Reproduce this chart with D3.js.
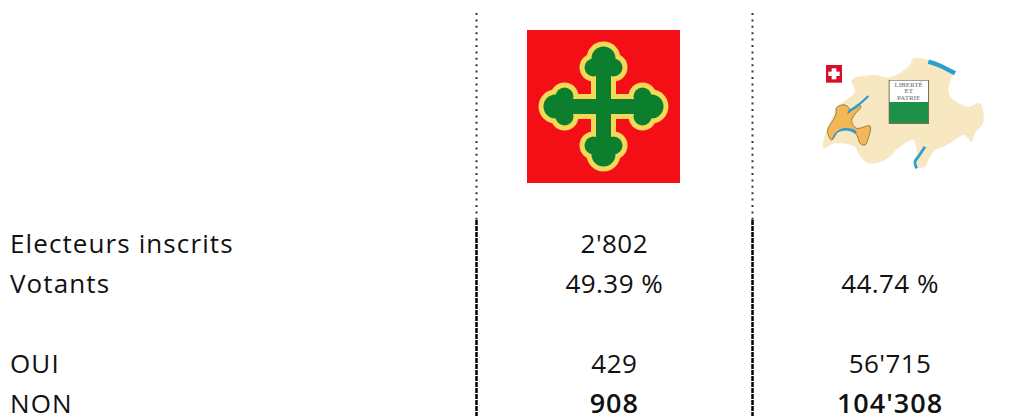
<!DOCTYPE html>
<html><head><meta charset="utf-8">
<script src="https://cdn.jsdelivr.net/npm/d3@7"></script>
<style>html,body{margin:0;padding:0;background:#fff}svg{display:block}text{font-family:"Open Sans",sans-serif;fill:#111}</style>
</head><body><svg id="c" width="1019" height="416"></svg>
<script>
const rowLabels = ["Electeurs inscrits","Votants","","OUI","NON"];
const colA = ["2'802","49.39 %","","429","908"];
const colB = ["","44.74 %","","56'715","104'308"];
const boldRow = "NON";

// Icon outlines, in the icon's own drawing units
const swissOutline = [[70,325],[80,270],[120,195],[165,155],[155,120],[225,105],[270,112],[330,75],[340,55],[385,60],[420,85],[455,100],[445,150],[455,175],[505,200],[540,190],[550,245],[525,280],[515,305],[490,285],[465,300],[430,320],[405,330],[385,360],[375,380],[345,380],[350,340],[340,300],[300,320],[255,360],[205,370],[175,340],[165,320],[105,310]];
const vaudOutline = [[83,270],[107,225],[110,202],[135,195],[150,210],[143,220],[175,195],[183,200],[163,225],[155,245],[170,265],[210,258],[205,295],[195,315],[180,310],[170,285],[145,270],[115,275],[95,300],[85,285]];
const lakeGeneva = [[95,300],[105,280],[130,265],[165,270],[170,280],[145,272],[115,277]];
const lakeNeuchatel = [[145,215],[175,195],[205,168]];
const lakeConstance = [[385,65],[415,75],[465,100]];
const lakeMaggiore = [[375,320],[355,350],[345,365],[350,385]];
const lobes = [[0,-48,12],[-10,-39,9],[10,-39,9]];

const svg = d3.select("#c");
const x = d3.scalePoint().domain(["A","B"]).range([614.3,890]);
const y = d3.scalePoint().domain(d3.range(rowLabels.length)).range([252.5,412.5]);
const addCol = (vals, px, anchor) => svg.append("g").selectAll("text").data(vals).join("text")
  .attr("x",px).attr("y",(d,i)=>y(i)).attr("text-anchor",anchor)
  .attr("font-size",(d,i)=>rowLabels[i]===boldRow&&anchor==="middle"?27:26)
  .attr("letter-spacing",(d,i)=>anchor==="start"?1.1:rowLabels[i]===boldRow?1:.45)
  .attr("font-weight",(d,i)=>rowLabels[i]===boldRow&&anchor==="middle"?600:400).text(d=>d);
addCol(rowLabels,10,"start");
addCol(colA,x("A"),"middle");
addCol(colB,x("B"),"middle");

// dividers
[476.5,752.5].forEach(px=>{
  svg.append("line").attr("x1",px).attr("x2",px).attr("y1",13).attr("y2",220).attr("stroke","#333").attr("stroke-width",2).attr("stroke-dasharray","2 4.4");
  svg.append("line").attr("x1",px).attr("x2",px).attr("y1",220).attr("y2",416).attr("stroke","#000").attr("stroke-width",2.5).attr("stroke-dasharray","5 1");
});

// flag
const flag = svg.append("g").attr("transform","translate(603.5,106.5)");
flag.append("rect").attr("x",-76.5).attr("y",-76.5).attr("width",153).attr("height",153).attr("fill","#f40f16");
const cross = (g,col,pad)=>{
  [0,90,180,270].forEach(a=>{
    const arm=g.append("g").attr("transform",`rotate(${a})`);
    arm.append("rect").attr("x",-7.5-pad).attr("y",-45).attr("width",15+pad*2).attr("height",45).attr("fill",col);
    arm.selectAll("circle").data(lobes).join("circle").attr("cx",d=>d[0]).attr("cy",d=>d[1]).attr("r",d=>d[2]+pad).attr("fill",col);
  });
};
cross(flag,"#f4d857",5);
cross(flag,"#0b7f2e",0);

// map
const mx = d3.scaleLinear().domain([0,600]).range([800,1000]);
const my = d3.scaleLinear().domain([0,390]).range([40,170]);
const line = d3.line().x(d=>mx(d[0])).y(d=>my(d[1])).curve(d3.curveCatmullRomClosed.alpha(.5));
const open = d3.line().x(d=>mx(d[0])).y(d=>my(d[1])).curve(d3.curveCatmullRom);
const defs = svg.append("defs");
defs.append("filter").attr("id","b").append("feGaussianBlur").attr("stdDeviation",.7);
const m = svg.append("g").attr("filter","url(#b)");
m.append("path").attr("d",line(swissOutline)).attr("fill","#f8e8c2");
m.append("path").attr("d",line(vaudOutline)).attr("fill","#f3b758").attr("stroke","#6b5a30").attr("stroke-width",.7);
m.append("path").attr("d",line(lakeGeneva)).attr("fill","#2c9fd0");
[[lakeNeuchatel,2.4],[lakeConstance,4.5],[lakeMaggiore,2.8]].forEach(([p,w])=>
  m.append("path").attr("d",open(p)).attr("fill","none").attr("stroke","#2c9fd0").attr("stroke-width",w));
const rect=(xa,ya,xb,yb,col,g=m)=>g.append("rect").attr("x",mx(xa)).attr("y",my(ya)).attr("width",mx(xb)-mx(xa)).attr("height",my(yb)-my(ya)).attr("fill",col);
rect(266,120,387,252,"#77705a");
rect(269,122,384,186,"#fff");
rect(269,186,384,248,"#1f9146");
rect(78,75,126,128,"#d8102a");
rect(95,85,109,118,"#fff");
rect(85,95,119,108,"#fff");
svg.selectAll("text.m").data(["LIBERTÉ","ET","PATRIE"]).join("text").attr("class","m")
  .attr("x",mx(326)).attr("y",(d,i)=>my(141+i*19)).attr("text-anchor","middle")
  .attr("font-size",7).style("font-family","'Liberation Serif',serif").style("fill","#666").text(d=>d);
</script></body></html>
